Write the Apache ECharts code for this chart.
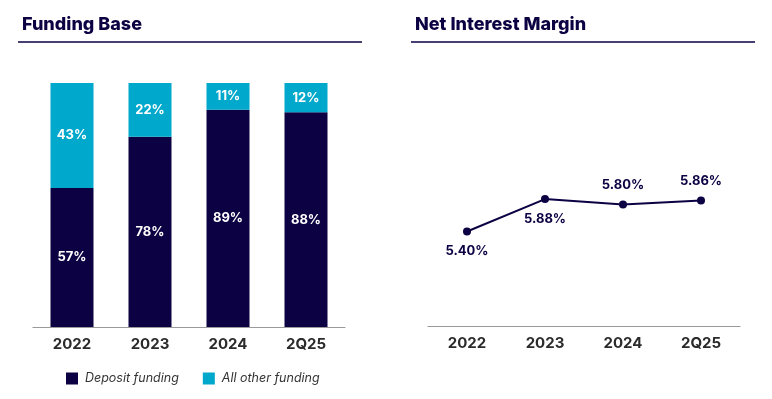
<!DOCTYPE html>
<html lang="en">

<head>
  <meta charset="UTF-8">
  <title>Funding Base / Net Interest Margin</title>
  <style>
    html, body {
      margin: 0;
      padding: 0;
      background-color: #fff;
    }

    #chart {
      width: 772px;
      height: 399px;
    }
  </style>
</head>

<body>
  <div id="chart"></div>
  <script src="https://cdn.jsdelivr.net/npm/echarts@6/dist/echarts.min.js"></script>
  <script>
    // data
    const periods = ['2022', '2023', '2024', '2Q25']
    const depositFunding = [57, 78, 89, 88]
    const otherFunding = [43, 22, 11, 12]
    const nimValues = [5.40, 5.88, 5.80, 5.86]
    const nimLabelPos = ['bottom', 'bottom', 'top', 'top']

    const navy = '#0c0142'
    const cyan = '#00a8cc'
    const font = 'Inter'

    const catAxis = (gridIndex) => ({
      type: 'category',
      gridIndex,
      data: periods,
      axisLine: { lineStyle: { color: '#9a9a9a', width: 1.2 } },
      axisTick: { show: false },
      axisLabel: {
        color: '#2b2b2b',
        fontFamily: font,
        fontWeight: 'bold',
        fontSize: 15,
        margin: 10
      }
    })

    const option = {
      animation: false,
      textStyle: { fontFamily: font },
      title: [
        {
          text: 'Funding Base',
          left: 17,
          top: 11,
          textStyle: { color: navy, fontFamily: font, fontWeight: 800, fontSize: 18 }
        },
        {
          text: 'Net Interest Margin',
          left: 410,
          top: 11,
          textStyle: { color: navy, fontFamily: font, fontWeight: 800, fontSize: 18 }
        }
      ],
      graphic: [
        { type: 'line', shape: { x1: 18, y1: 42, x2: 362, y2: 42 }, style: { stroke: navy, lineWidth: 1.5 } },
        { type: 'line', shape: { x1: 411, y1: 42, x2: 755, y2: 42 }, style: { stroke: navy, lineWidth: 1.5 } }
      ],
      legend: {
        left: 61,
        top: 367,
        icon: 'rect',
        itemWidth: 12,
        itemHeight: 12,
        itemGap: 24,
        data: ['Deposit funding', 'All other funding'],
        textStyle: {
          color: '#333',
          fontFamily: font,
          fontStyle: 'italic',
          fontSize: 12.5,
          padding: [0, 0, 0, 2]
        }
      },
      grid: [
        { left: 33, top: 83, width: 312, height: 244 },
        { left: 428, top: 83, width: 312, height: 243 }
      ],
      xAxis: [catAxis(0), catAxis(1)],
      yAxis: [
        { type: 'value', gridIndex: 0, min: 0, max: 100, show: false },
        { type: 'value', gridIndex: 1, min: 4, max: 7.6, show: false }
      ],
      series: [
        {
          name: 'Deposit funding',
          type: 'bar',
          stack: 'funding',
          barWidth: 43,
          itemStyle: { color: navy },
          label: {
            show: true,
            position: 'inside',
            color: '#fff',
            fontWeight: 'bold',
            fontSize: 13,
            formatter: p => p.value + '%'
          },
          data: depositFunding
        },
        {
          name: 'All other funding',
          type: 'bar',
          stack: 'funding',
          barWidth: 43,
          itemStyle: { color: cyan },
          label: {
            show: true,
            position: 'inside',
            color: '#fff',
            fontWeight: 'bold',
            fontSize: 13,
            formatter: p => p.value + '%'
          },
          data: otherFunding
        },
        {
          name: 'NIM',
          type: 'line',
          xAxisIndex: 1,
          yAxisIndex: 1,
          symbol: 'circle',
          symbolSize: 8,
          lineStyle: { color: navy, width: 2 },
          itemStyle: { color: navy },
          label: {
            show: true,
            color: navy,
            fontWeight: 'bold',
            fontSize: 13,
            distance: 9,
            formatter: p => p.value.toFixed(2) + '%'
          },
          data: nimValues.map((v, i) => ({ value: v, label: { position: nimLabelPos[i] } }))
        }
      ]
    }

    const myChart = echarts.init(document.getElementById('chart'))
    myChart.setOption(option)
  </script>
</body>

</html>
